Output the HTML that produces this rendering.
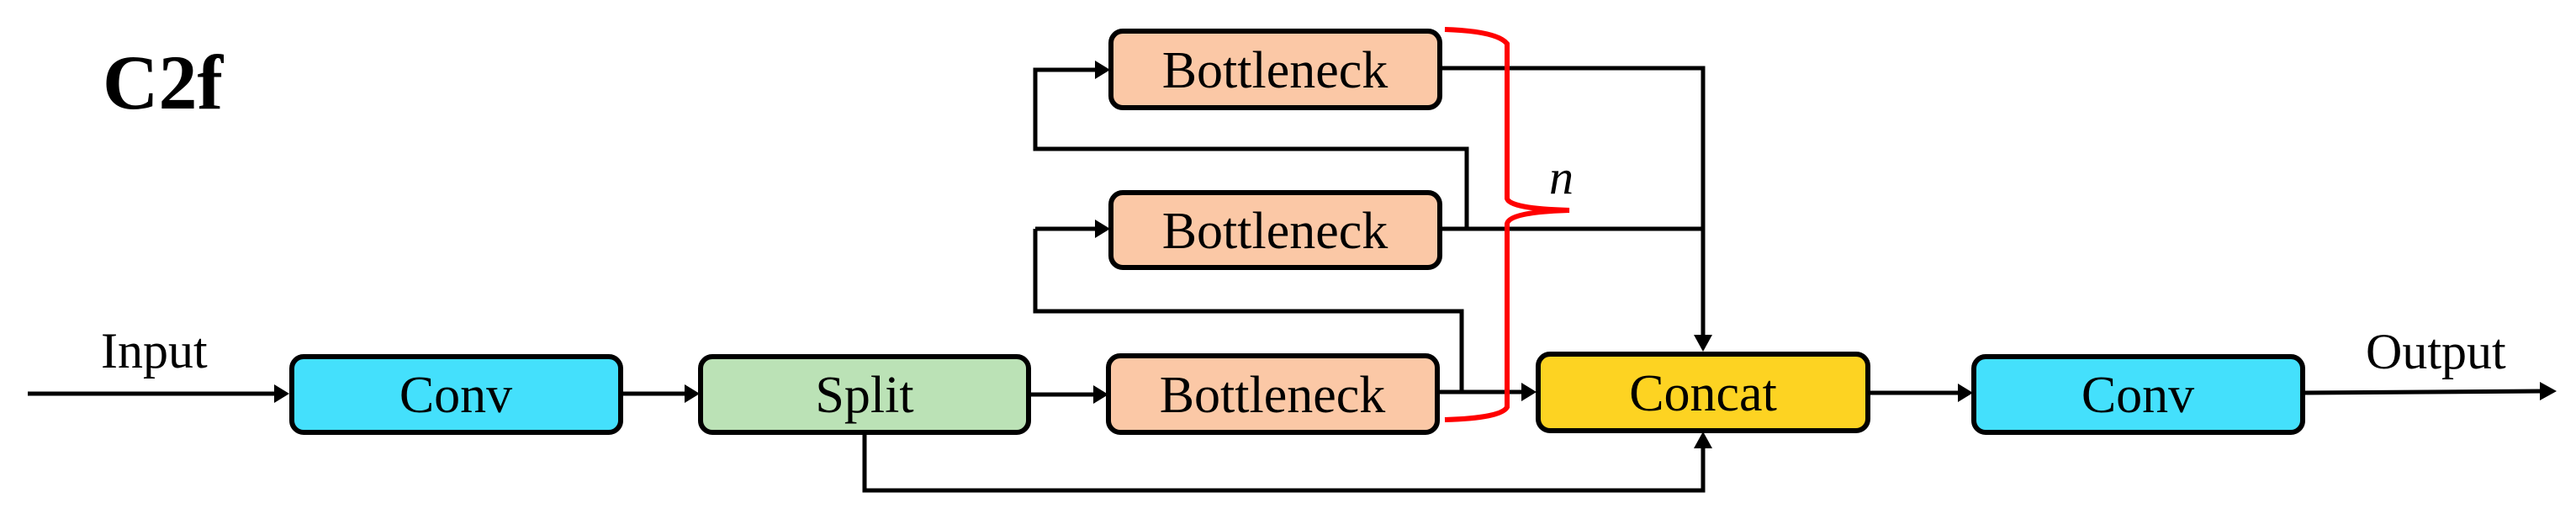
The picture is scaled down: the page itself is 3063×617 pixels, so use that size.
<!DOCTYPE html>
<html><head><meta charset="utf-8"><style>
html,body{margin:0;padding:0;background:#fff;}
svg{display:block;}
text{font-family:"Liberation Serif",serif;}
</style></head><body>
<svg width="3063" height="617" viewBox="0 0 3063 617" xmlns="http://www.w3.org/2000/svg">
<defs>
<marker id="a" markerWidth="10" markerHeight="10" refX="9" refY="5" orient="auto" markerUnits="userSpaceOnUse" viewBox="0 0 10 10">
</marker>
</defs>
<g stroke="#000" stroke-width="5" fill="none">
<!-- input -->
<line x1="33" y1="468" x2="330" y2="468"/>
<!-- conv->split -->
<line x1="738" y1="468" x2="818" y2="468"/>
<!-- split->B3 -->
<line x1="1223" y1="469" x2="1304" y2="469"/>
<!-- loops -->
<polyline points="1744,272 1744,177 1231,177 1231,83 1306,83"/>
<line x1="1231" y1="272" x2="1306" y2="272"/>
<polyline points="1738,467 1738,370 1231,370 1231,272"/>
<!-- outputs -->
<polyline points="1712,81 2025,81 2025,400"/>
<line x1="1712" y1="272" x2="2025" y2="272"/>
<line x1="1709" y1="466" x2="1812" y2="466"/>
<!-- bottom -->
<polyline points="1028,514 1028,583 2025,583 2025,530"/>
<!-- concat->conv -->
<line x1="2221" y1="467" x2="2330" y2="467"/>
<line x1="2738" y1="467" x2="3022" y2="465"/>
</g>
<g fill="#000">
<polygon points="344,468 326,457 326,479"/>
<polygon points="832,468 814,457 814,479"/>
<polygon points="1318,469 1300,458 1300,480"/>
<polygon points="1320,83 1302,72 1302,94"/>
<polygon points="1320,272 1302,261 1302,283"/>
<polygon points="1827,466 1809,455 1809,477"/>
<polygon points="2025,418 2014,398 2036,398"/>
<polygon points="2025,513 2014,533 2036,533"/>
<polygon points="2346,467 2328,456 2328,478"/>
<polygon points="3040,465 3020,454 3020,476"/>
</g>
<g stroke="#000" stroke-width="6">
<rect x="347" y="424" width="391" height="90" rx="14" fill="#44E0FC"/>
<rect x="833" y="424" width="390" height="90" rx="14" fill="#BBE2B6"/>
<rect x="1321" y="37" width="391" height="91" rx="14" fill="#FBC8A6"/>
<rect x="1321" y="229" width="391" height="89" rx="14" fill="#FBC8A6"/>
<rect x="1318" y="423" width="391" height="91" rx="14" fill="#FBC8A6"/>
<rect x="1829" y="421" width="392" height="91" rx="14" fill="#FDD322"/>
<rect x="2347" y="424" width="391" height="90" rx="14" fill="#44E0FC"/>
</g>
<path d="M1718,35 Q1780,37 1792,52 L1792,236 Q1795,248 1866,250 Q1795,252 1792,266 L1792,484 Q1785,497 1718,499" stroke="#ff0000" stroke-width="6" fill="none"/>
<g font-size="62" text-anchor="middle" fill="#000">
<text x="542" y="490">Conv</text>
<text x="1028" y="490">Split</text>
<text x="1516" y="104">Bottleneck</text>
<text x="1516" y="295">Bottleneck</text>
<text x="1513" y="490">Bottleneck</text>
<text x="2025" y="488">Concat</text>
<text x="2542" y="490">Conv</text>
</g>
<text x="120" y="437" font-size="60">Input</text>
<text x="2813" y="438" font-size="60">Output</text>
<text x="122" y="129" font-size="92" font-weight="bold">C2f</text>
<text x="1842" y="230" font-size="58" font-style="italic">n</text>
</svg>
</body></html>
